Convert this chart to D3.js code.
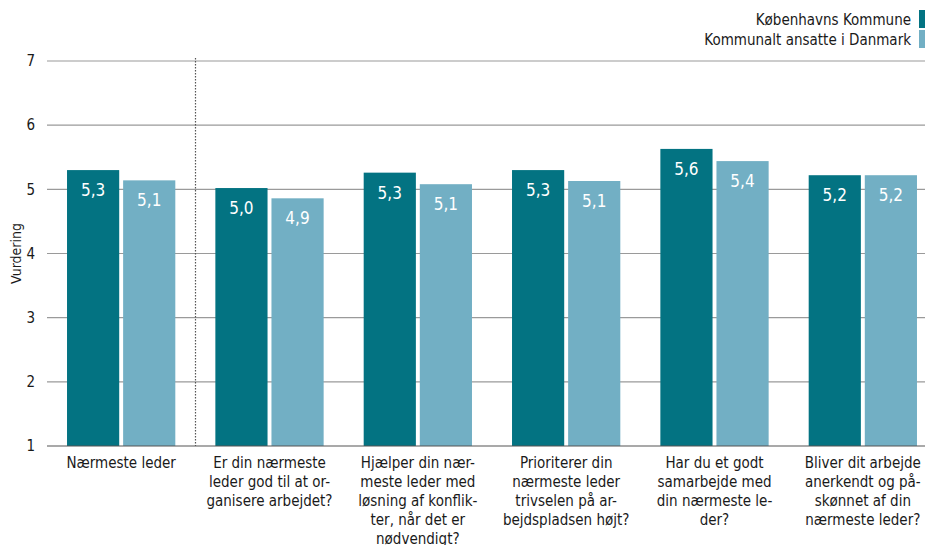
<!DOCTYPE html>
<html>
<head lang="da">
  <meta charset="UTF-8">
  <title>Nærmeste leder</title>
</head>
<style>
  body { margin: 0; background: #fff; }
  #chart text { font-family: "DejaVu Sans Condensed", "DejaVu Sans", sans-serif; fill: #1a1a1a; }
  #chart .grid line { stroke: #9a9a9a; stroke-width: 1.2; }
  #chart .value { fill: #fff; }
</style>
<body>

<svg id="chart" width="925" height="545"></svg>

<script src="https://cdn.jsdelivr.net/npm/d3@7"></script>
<script>
  // Data
  var categories = [
    ['Nærmeste leder'],
    ['Er din nærmeste', 'leder god til at or-', 'ganisere arbejdet?'],
    ['Hjælper din nær-', 'meste leder med', 'løsning af konflik-', 'ter, når det er', 'nødvendigt?'],
    ['Prioriterer din', 'nærmeste leder', 'trivselen på ar-', 'bejdspladsen højt?'],
    ['Har du et godt', 'samarbejde med', 'din nærmeste le-', 'der?'],
    ['Bliver dit arbejde', 'anerkendt og på-', 'skønnet af din', 'nærmeste leder?']
  ];
  var seriesNames = ['Københavns Kommune', 'Kommunalt ansatte i Danmark'];
  var kommune = [5.30, 5.02, 5.26, 5.30, 5.63, 5.22];
  var danmark = [5.14, 4.86, 5.08, 5.13, 5.44, 5.22];
  var yTicks = [1, 2, 3, 4, 5, 6, 7];
  var colors = ['#037382', '#72afc4'];

  var svg = d3.select('#chart');

  var x = d3.scaleBand()
    .domain(d3.range(categories.length))
    .range([47, 937])
    .paddingInner(0.27)
    .paddingOuter(0.135);

  var x1 = d3.scaleBand()
    .domain([0, 1])
    .range([0, x.bandwidth()])
    .paddingInner(0.07);

  var y = d3.scaleLinear()
    .domain([1, 7])
    .range([446, 61]);

  // gridlines
  var grid = svg.append('g').attr('class', 'grid');
  grid.selectAll('line')
    .data(yTicks.slice(1))
    .enter()
      .append('line')
      .attr('x1', 47)
      .attr('x2', 925)
      .attr('y1', function(d) { return y(d); })
      .attr('y2', function(d) { return y(d); });

  // y axis labels
  var yAxis = svg.append('g')
    .attr('transform', 'translate(40,0)')
    .call(d3.axisLeft(y).tickValues(yTicks).tickSize(0).tickPadding(5).tickFormat(d3.format('d')));
  yAxis.select('.domain').remove();
  yAxis.selectAll('text')
    .attr('font-size', 15)
    .style('font-family', '"DejaVu Sans Condensed", "DejaVu Sans", sans-serif')
    .attr('fill', '#1a1a1a');

  svg.append('text')
    .attr('transform', 'translate(21,' + y(4) + ') rotate(-90)')
    .attr('text-anchor', 'middle')
    .attr('font-size', 14)
    .text('Vurdering');

  // separator after first group
  var sepX = Math.round(x(0) + x.bandwidth() + x.step() * x.paddingInner() / 2) + 0.5;
  svg.append('line')
    .attr('x1', sepX).attr('x2', sepX)
    .attr('y1', 58).attr('y2', y(1))
    .attr('stroke', '#555')
    .attr('stroke-width', 1.2)
    .attr('stroke-dasharray', '1.5,1.5');

  // bars
  var rows = categories.map(function(c, i) { return [kommune[i], danmark[i]]; });

  var groups = svg.selectAll('g.group')
    .data(rows)
    .enter()
      .append('g')
      .attr('class', 'group')
      .attr('transform', function(d, i) { return 'translate(' + x(i) + ',0)'; });

  groups.selectAll('rect')
    .data(function(d) { return d; })
    .enter()
      .append('rect')
      .attr('x', function(d, j) { return x1(j); })
      .attr('y', function(d) { return y(d); })
      .attr('width', x1.bandwidth())
      .attr('height', function(d) { return y(1) - y(d); })
      .attr('fill', function(d, j) { return colors[j]; });

  groups.selectAll('text.value')
    .data(function(d) { return d; })
    .enter()
      .append('text')
      .attr('class', 'value')
      .attr('x', function(d, j) { return x1(j) + x1.bandwidth() / 2; })
      .attr('y', function(d) { return y(d) + 26; })
      .attr('text-anchor', 'middle')
      .attr('font-size', 17)
      .text(function(d) { return d3.format('.1f')(d).replace('.', ','); });

  // baseline
  svg.append('line')
    .attr('x1', 47).attr('x2', 925)
    .attr('y1', y(1)).attr('y2', y(1))
    .attr('stroke', '#555')
    .attr('stroke-width', 1.2);

  // category labels
  var labels = svg.selectAll('text.cat')
    .data(categories)
    .enter()
      .append('text')
      .attr('class', 'cat')
      .attr('text-anchor', 'middle')
      .attr('font-size', 15)
      .attr('transform', function(d, i) { return 'translate(' + (x(i) + x.bandwidth() / 2) + ',468)'; });

  labels.selectAll('tspan')
    .data(function(d) { return d; })
    .enter()
      .append('tspan')
      .attr('x', 0)
      .attr('y', function(d, k) { return k * 19; })
      .text(function(d) { return d; });

  // legend
  var legend = svg.selectAll('g.legend')
    .data(seriesNames)
    .enter()
      .append('g')
      .attr('class', 'legend')
      .attr('transform', function(d, i) { return 'translate(0,' + (10 + i * 20) + ')'; });

  legend.append('rect')
    .attr('x', 919)
    .attr('width', 8)
    .attr('height', 18)
    .attr('fill', function(d, i) { return colors[i]; });

  legend.append('text')
    .attr('x', 911)
    .attr('y', 15)
    .attr('text-anchor', 'end')
    .attr('font-size', 15)
    .text(function(d) { return d; });
</script>
</body>
</html>
